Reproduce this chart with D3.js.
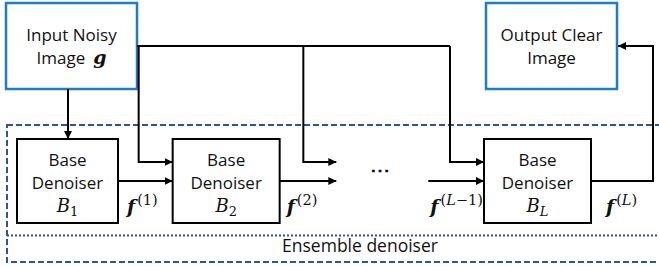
<!DOCTYPE html>
<html>
<head>
<meta charset="utf-8"/>
<script src="https://d3js.org/d3.v7.min.js"></script>
<style>
body { margin: 0; background: #fff; }
text { font-family: "Open Sans", "Noto Sans", sans-serif; fill: #111; }
.math { font-family: "DejaVu Serif", "Liberation Serif", serif; font-style: italic; }
</style>
</head>
<body>
<div id="v"></div>
<script>
// diagram content
var stageIndex = [0, 1, 3];                 // slot of each base denoiser (slot 2 = ellipsis)
var stageSub = ["1", "2", "L"];              // subscript of B
var inputLines = ["Input Noisy", "Image"];
var outputLines = ["Output Clear", "Image"];
var ensembleLabel = "Ensemble denoiser";
var fSup = [["(", "1", ")"], ["(", "2", ")"], ["(", "L", "\u22121)"], ["(", "L", ")"]];

(function() {
  var width = 659, height = 267;
  var svg = d3.select("#v").append("svg")
    .attr("width", width).attr("height", height);

  var defs = svg.append("defs");
  defs.append("marker").attr("id", "arr")
    .attr("viewBox", "0 0 10 10").attr("refX", 10).attr("refY", 5)
    .attr("markerWidth", 8).attr("markerHeight", 8)
    .attr("markerUnits", "userSpaceOnUse").attr("orient", "auto")
    .append("path").attr("d", "M0,0 L10,5 L0,10 z").attr("fill", "#000");

  // slot -> left x of the box
  var x = d3.scaleLinear().domain([0, 3]).range([17, 484]);
  var boxW = 107, boxTop = 139, boxH = 84;
  var midY = 181, feedY = 162, topY = 46;

  var line = function(pts) { return d3.line()(pts); };

  // ensemble container
  svg.append("rect").attr("x", 7).attr("y", 125).attr("width", 670).attr("height", 137)
    .attr("fill", "none").attr("stroke", "#2f5597").attr("stroke-width", 2)
    .attr("stroke-dasharray", "6,3");
  svg.append("line").attr("x1", 7).attr("x2", 659).attr("y1", 235.5).attr("y2", 235.5)
    .attr("stroke", "#2f5597").attr("stroke-width", 2).attr("stroke-dasharray", "2,2");
  svg.append("text").attr("x", 360).attr("y", 252).attr("text-anchor", "middle")
    .style("font-size", "17.5px").text(ensembleLabel);

  // input / output boxes
  var ioBoxes = [{x: 6, lines: inputLines, g: true}, {x: 486, lines: outputLines, g: false}];
  ioBoxes.forEach(function(b) {
    svg.append("rect").attr("x", b.x).attr("y", 3).attr("width", 131).attr("height", 86)
      .attr("fill", "#fff").attr("stroke", "#1f7bcc").attr("stroke-width", 2.5);
    b.lines.forEach(function(s, i) {
      var t = svg.append("text").attr("x", b.x + 65.5).attr("y", 41 + i * 23)
        .attr("text-anchor", "middle").style("font-size", "17px");
      t.append("tspan").text(s);
      if (b.g && i === 1) {
        t.append("tspan").attr("class", "math").attr("dx", 8)
          .style("font-weight", "bold").style("font-size", "19px").text("g");
      }
    });
  });

  var wire = svg.append("g").attr("fill", "none").attr("stroke", "#000").attr("stroke-width", 2);

  // broadcast line from input to each stage
  wire.append("path").attr("d", line([[137, topY], [x(3) - 34, topY]]));
  stageIndex.slice(1).forEach(function(s) {
    var vx = x(s) - 34;
    wire.append("path").attr("d", line([[vx, topY], [vx, feedY], [x(s), feedY]]))
      .attr("marker-end", "url(#arr)");
  });
  // extra feed into the ellipsis slot
  wire.append("path").attr("d", line([[x(2) - 25, topY], [x(2) - 25, feedY], [x(2) + 8, feedY]]))
    .attr("marker-end", "url(#arr)");
  // input down to B1
  wire.append("path").attr("d", line([[68, 89], [68, boxTop]])).attr("marker-end", "url(#arr)");

  // chain arrows
  wire.append("path").attr("d", line([[x(0) + boxW - 6, midY], [x(1), midY]])).attr("marker-end", "url(#arr)");
  wire.append("path").attr("d", line([[x(1) + boxW, midY], [x(2) + 8, midY]])).attr("marker-end", "url(#arr)");
  wire.append("path").attr("d", line([[x(2) + 100, midY], [x(3), midY]])).attr("marker-end", "url(#arr)");
  // final output back to top
  wire.append("path").attr("d", line([[x(3) + boxW, midY], [653, midY], [653, topY], [618, topY]]))
    .attr("marker-end", "url(#arr)");

  svg.append("text").attr("x", x(2) + 52).attr("y", 177).attr("text-anchor", "middle")
    .style("font-size", "20px").style("font-weight", "bold").text("\u22EF");

  // base denoisers
  var boxes = svg.selectAll(".stage").data(stageIndex).enter().append("g")
    .attr("class", "stage").attr("transform", function(d) { return "translate(" + x(d) + "," + boxTop + ")"; });
  boxes.append("rect").attr("width", function(d, i) { return i === 0 ? boxW - 6 : boxW; })
    .attr("height", boxH).attr("fill", "#fff").attr("stroke", "#000").attr("stroke-width", 2);
  boxes.each(function(d, i) {
    var g = d3.select(this), cx = (i === 0 ? boxW - 6 : boxW) / 2;
    g.append("text").attr("x", cx).attr("y", 27).attr("text-anchor", "middle").style("font-size", "17px").text("Base");
    g.append("text").attr("x", cx).attr("y", 50).attr("text-anchor", "middle").style("font-size", "17px").text("Denoiser");
    var t = g.append("text").attr("x", cx).attr("y", 73).attr("text-anchor", "middle").attr("class", "math").style("font-size", "18px");
    t.append("tspan").text("B");
    t.append("tspan").attr("dy", 4).style("font-size", "13px")
      .style("font-style", stageSub[i] === "L" ? "italic" : "normal").text(stageSub[i]);
  });

  // f labels
  var fX = [x(0) + boxW + 3, x(1) + boxW + 7, x(2) + 102, x(3) + boxW + 15];
  fSup.forEach(function(sup, k) {
    var t = svg.append("text").attr("x", fX[k]).attr("y", 213).attr("class", "math");
    t.append("tspan").style("font-weight", "bold").style("font-size", "19px").text("f");
    sup.forEach(function(s, j) {
      t.append("tspan").attr("dy", j === 0 ? -8 : 0).attr("dx", j === 0 ? 2 : 0)
        .style("font-size", "14.5px")
        .style("font-style", s === "L" ? "italic" : "normal").text(s);
    });
  });
})();
</script>
</body>
</html>
